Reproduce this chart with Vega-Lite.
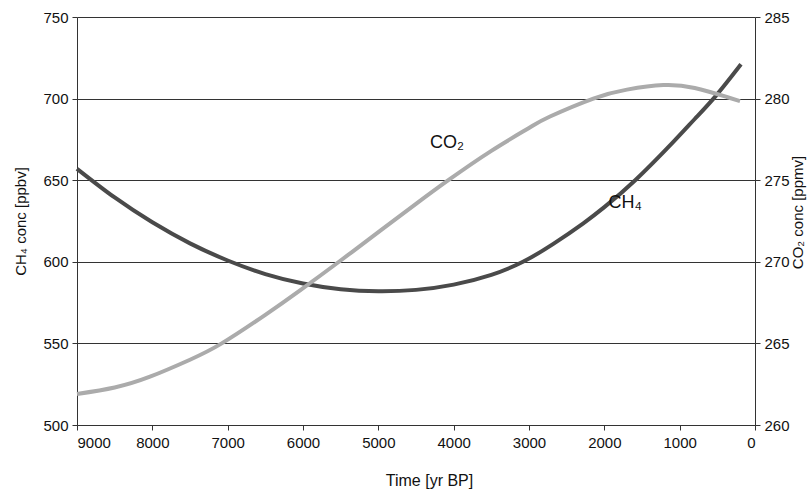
{
  "$schema": "https://vega.github.io/schema/vega-lite/v6.json",
  "autosize": {"type": "none"},
  "padding": {"left": 77, "top": 17, "right": 56, "bottom": 68},
  "width": 678,
  "height": 408,
  "config": {
    "view": {"stroke": null},
    "font": "Liberation Sans",
    "axis": {
      "labelFont": "Liberation Sans",
      "titleFont": "Liberation Sans",
      "labelFontSize": 15,
      "titleFontSize": 15,
      "titleFontWeight": "normal",
      "labelColor": "#111",
      "titleColor": "#111",
      "domainColor": "#333",
      "tickColor": "#333",
      "tickSize": 5,
      "gridColor": "#333",
      "gridOpacity": 1,
      "gridWidth": 1
    }
  },
  "datasets": {
    "ch4": [
      {"t": 9000, "v": 657},
      {"t": 8500, "v": 639.4},
      {"t": 8000, "v": 624.2},
      {"t": 7500, "v": 611.3},
      {"t": 7000, "v": 600.8},
      {"t": 6500, "v": 592.5},
      {"t": 6000, "v": 586.7},
      {"t": 5500, "v": 583.2},
      {"t": 5000, "v": 582},
      {"t": 4500, "v": 582.8},
      {"t": 4000, "v": 586},
      {"t": 3500, "v": 592},
      {"t": 3080, "v": 600},
      {"t": 2677, "v": 611},
      {"t": 2279, "v": 623.6},
      {"t": 2000, "v": 633.5},
      {"t": 1590, "v": 650},
      {"t": 1084, "v": 673.5},
      {"t": 800, "v": 687.5},
      {"t": 514, "v": 702},
      {"t": 186, "v": 721}
    ],
    "co2": [
      {"t": 9000, "v": 261.9},
      {"t": 8500, "v": 262.3},
      {"t": 8031, "v": 262.96},
      {"t": 7500, "v": 264.0},
      {"t": 7079, "v": 265.0},
      {"t": 6500, "v": 266.75},
      {"t": 6039, "v": 268.25},
      {"t": 5509, "v": 270.05},
      {"t": 4934, "v": 272.05},
      {"t": 4500, "v": 273.55},
      {"t": 4071, "v": 275},
      {"t": 3500, "v": 276.8},
      {"t": 3000, "v": 278.2},
      {"t": 2721, "v": 278.9},
      {"t": 2146, "v": 280},
      {"t": 1700, "v": 280.55},
      {"t": 1216, "v": 280.83},
      {"t": 800, "v": 280.65},
      {"t": 375, "v": 280.1},
      {"t": 199, "v": 279.85}
    ],
    "labels": [
      {"t": 4088, "v": 672.8, "label": "CO₂"},
      {"t": 1725, "v": 636, "label": "CH₄"}
    ]
  },
  "resolve": {"scale": {"y": "independent"}},
  "layer": [
    {
      "layer": [
        {
          "data": {"name": "ch4"},
          "mark": {"type": "line", "color": "#4a4a4a", "strokeWidth": 4, "interpolate": "natural"},
          "encoding": {
            "x": {
              "field": "t", "type": "quantitative",
              "scale": {"domain": [0, 9000], "reverse": true, "nice": false},
              "axis": {"values": [0, 1000, 2000, 3000, 4000, 5000, 6000, 7000, 8000, 9000], "format": "d", "grid": false, "title": "Time [yr BP]", "titleFontSize": 16, "labelPadding": 5, "titlePadding": 22, "titleX": 352}
            },
            "y": {
              "field": "v", "type": "quantitative",
              "scale": {"domain": [500, 750], "nice": false, "zero": false},
              "axis": {"orient": "left", "values": [500, 550, 600, 650, 700, 750], "grid": true, "title": "CH₄ conc [ppbv]", "labelPadding": 4, "titlePadding": 14}
            }
          }
        },
        {
          "data": {"name": "labels"},
          "mark": {"type": "text", "fontSize": 18, "font": "Liberation Sans", "color": "#111", "align": "center", "baseline": "middle"},
          "encoding": {
            "x": {"field": "t", "type": "quantitative"},
            "y": {"field": "v", "type": "quantitative"},
            "text": {"field": "label"}
          }
        }
      ]
    },
    {
      "data": {"name": "co2"},
      "mark": {"type": "line", "color": "#ababab", "strokeWidth": 4, "interpolate": "natural"},
      "encoding": {
        "x": {"field": "t", "type": "quantitative"},
        "y": {
          "field": "v", "type": "quantitative",
          "scale": {"domain": [260, 285], "nice": false, "zero": false},
          "axis": {"orient": "right", "values": [260, 265, 270, 275, 280, 285], "grid": false, "title": "CO₂ conc [ppmv]", "labelPadding": 4, "titleAngle": 270, "titlePadding": 16, "titleY": 195}
        }
      }
    }
  ]
}
